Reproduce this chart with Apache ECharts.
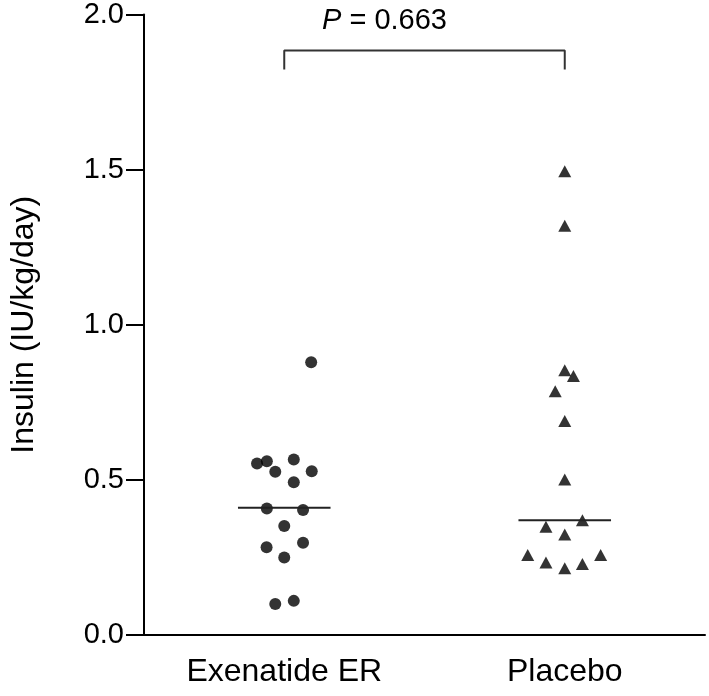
<!DOCTYPE html>
<html>
<head>
<meta charset="utf-8">
<script src="https://cdn.jsdelivr.net/npm/echarts@6/dist/echarts.min.js"></script>
<style>html,body{margin:0;padding:0;background:#fff;}#c{width:709px;height:696px;}</style>
</head>
<body>
<div id="c"></div>
<script>
var categories = ['Exenatide ER', 'Placebo'];
var yTicks = [0, 0.5, 1.0, 1.5, 2.0];

// Exenatide ER: values and horizontal jitter (category units)
var exenatideValues = [0.879, 0.566, 0.560, 0.553, 0.528, 0.526, 0.492, 0.408, 0.403, 0.351, 0.297, 0.283, 0.250, 0.110, 0.100];
var exenatideJitter = [0.096, 0.034, -0.062, -0.097, 0.098, -0.032, 0.034, -0.062, 0.067, 0.0, 0.067, -0.063, 0.0, 0.034, -0.032];
var exenatideMedian = 0.410;

// Placebo: values and horizontal jitter
var placeboValues = [1.495, 1.319, 0.853, 0.835, 0.786, 0.690, 0.501, 0.370, 0.349, 0.324, 0.258, 0.258, 0.234, 0.229, 0.215];
var placeboJitter = [0.0, 0.0, 0.0, 0.031, -0.034, 0.0, 0.0, 0.063, -0.067, 0.0, -0.132, 0.128, -0.067, 0.063, 0.0];
var placeboMedian = 0.370;
var medianHalfWidth = 0.165;

// significance bracket
var bracketTop = 1.884;
var bracketBottom = 1.823;
var pLabel = '0.663';

function pts(idx, vals, jit) {
  return vals.map(function (v, i) { return [idx + jit[i], v]; });
}
function median(idx, m) {
  return [[idx - medianHalfWidth, m], [idx + medianHalfWidth, m]];
}

var chart = echarts.init(document.getElementById('c'), null, { renderer: 'canvas' });
var FONT = 'Liberation Sans, Arial, sans-serif';
chart.setOption({
  animation: false,
  backgroundColor: '#fff',
  textStyle: { fontFamily: FONT },
  title: {
    text: '{i|P} = ' + pLabel,
    left: 317, top: 1,
    textStyle: {
      fontFamily: FONT, fontSize: 29, fontWeight: 'normal', color: '#000',
      rich: { i: { fontStyle: 'italic', fontSize: 29, fontFamily: FONT, color: '#000' } }
    }
  },
  grid: { left: 130, right: 4, top: 14, bottom: 61, containLabel: false },
  xAxis: [{
    type: 'category',
    data: categories,
    boundaryGap: true,
    axisLine: { lineStyle: { color: '#000', width: 2 } },
    axisTick: { alignWithLabel: true, length: 18, lineStyle: { color: '#000', width: 2 } },
    axisLabel: { color: '#000', fontSize: 32, margin: 21, fontFamily: FONT },
    splitLine: { show: false }
  }, {
    type: 'value',
    min: -0.5, max: 1.5,
    show: false
  }],
  yAxis: {
    type: 'value',
    min: yTicks[0], max: yTicks[yTicks.length - 1], interval: 0.5,
    name: 'Insulin (IU/kg/day)',
    nameLocation: 'middle',
    nameGap: 104,
    nameTextStyle: { color: '#000', fontSize: 32, fontFamily: FONT },
    axisLine: { show: true, onZero: false, lineStyle: { color: '#000', width: 2 } },
    axisTick: { show: true, length: 18, lineStyle: { color: '#000', width: 2 } },
    axisLabel: { color: '#000', fontSize: 29, margin: 20, fontFamily: FONT, formatter: function (v) { return v.toFixed(1); } },
    splitLine: { show: false }
  },
  series: [
    {
      type: 'scatter', xAxisIndex: 1, symbol: 'circle', symbolSize: 12,
      itemStyle: { color: '#000' },
      data: pts(0, exenatideValues, exenatideJitter)
    },
    {
      type: 'scatter', xAxisIndex: 1, symbol: 'triangle', symbolSize: [13, 12],
      itemStyle: { color: '#000' },
      data: pts(1, placeboValues, placeboJitter)
    },
    {
      type: 'line', xAxisIndex: 1, symbol: 'none',
      lineStyle: { color: '#222', width: 2 },
      data: median(0, exenatideMedian)
    },
    {
      type: 'line', xAxisIndex: 1, symbol: 'none',
      lineStyle: { color: '#222', width: 2 },
      data: median(1, placeboMedian)
    },
    {
      type: 'line', xAxisIndex: 1, symbol: 'none',
      lineStyle: { color: '#333', width: 2 },
      data: [[0, bracketBottom], [0, bracketTop], [1, bracketTop], [1, bracketBottom]]
    }
  ]
});
</script>
</body>
</html>
